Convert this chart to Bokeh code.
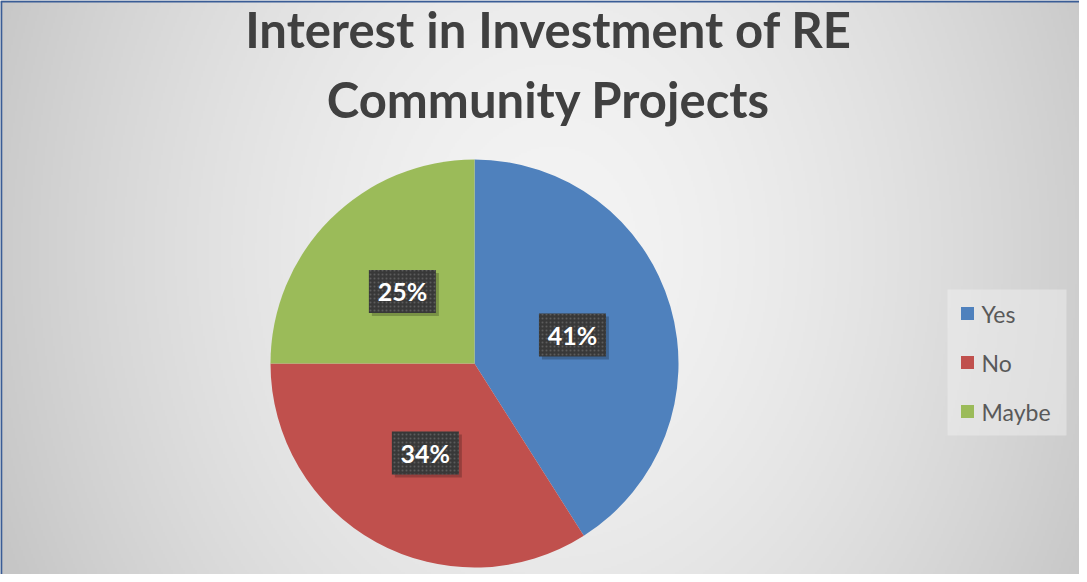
import numpy as np
from bokeh.plotting import figure
from bokeh.models import Range1d, ColumnDataSource
from bokeh.core.properties import value
from bokeh.embed import file_html
from bokeh.resources import INLINE

# ---- data ----
categories = ["Yes", "No", "Maybe"]
shares = [41, 34, 25]
slice_colors = ["#4f81bd", "#c0504d", "#9bbb59"]
title_lines = ["Interest in Investment of RE", "Community Projects"]

# ---- layout ----
W, H = 1079, 574
CX, CY, R = 474, 211, 204
FONT = "Lato"

p = figure(width=W, height=H, x_range=Range1d(0, W), y_range=Range1d(0, H),
           output_backend="svg", toolbar_location=None, min_border=0,
           x_axis_location=None, y_axis_location=None)
p.grid.visible = False
p.outline_line_color = None
p.background_fill_color = "#e0e0e0"
p.border_fill_color = "white"

# background radial gradient (styling only)
ny, nx = H // 2, W // 2
yy, xx = np.mgrid[0:ny, 0:nx]
X = xx * (W / nx)
Y = yy * (H / ny)
d = np.sqrt((X - 552) ** 2 + (0.8 * (Y - 322)) ** 2) / 600.0
t = np.clip(d, 0, 1) ** 1.6
v = (244 - (244 - 198) * t).astype(np.uint8)
img = np.empty((ny, nx), dtype=np.uint32)
view = img.view(dtype=np.uint8).reshape((ny, nx, 4))
view[..., 0] = v
view[..., 1] = v
view[..., 2] = v
view[..., 3] = 255
p.image_rgba(image=[img], x=0, y=0, dw=W, dh=H)

# border (top & left visible)
p.line(x=[0.8, 0.8], y=[0, 573], line_color="#3a5d96", line_width=2)
p.line(x=[0, W], y=[573, 573], line_color="#3a5d96", line_width=2)

# pie
frac = np.array(shares, dtype=float) / sum(shares)
cum = np.concatenate([[0], np.cumsum(frac)]) * 2 * np.pi
start = np.pi / 2 - cum[1:]
end = np.pi / 2 - cum[:-1]
mid = (start + end) / 2
lx = CX + 0.5 * R * np.cos(mid)
ly = CY + 0.5 * R * np.sin(mid)
pct = [f"{s}%" for s in shares]

# legend rows
LEG_Y0, LEG_DY = 261, 49
leg_y = [LEG_Y0 - i * LEG_DY for i in range(len(categories))]

src = ColumnDataSource(dict(cat=categories, start=start, end=end, color=slice_colors,
                            lx=lx, ly=ly, pct=pct, sx=lx + 3, sy=ly - 3,
                            gy=leg_y))
wr = p.wedge(x=CX, y=CY, radius=R, start_angle="start", end_angle="end",
             fill_color="color", line_color=None, source=src)

# data label boxes
p.rect(x="sx", y="sy", width=67, height=43, fill_color="black", fill_alpha=0.22,
       line_color=None, source=src)
p.rect(x="lx", y="ly", width=67, height=43, fill_color="#383838", line_color=None,
       hatch_pattern="dot", hatch_color="#5c5c5c", hatch_scale=4, hatch_weight=1,
       source=src)
p.text(x="lx", y="ly", text="pct", text_align="center", text_baseline="middle",
       text_font=value(FONT), text_font_style="bold", text_font_size="25px",
       text_color="white", source=src)

# title
tsrc = ColumnDataSource(dict(text=title_lines, x=[548, 548], y=[546, 476]))
p.text(x="x", y="y", text="text", text_align="center", text_baseline="alphabetic",
       text_font=value(FONT), text_font_style="bold", text_font_size="49px",
       text_color="#404040", source=tsrc)

# legend (custom)
p.quad(left=947, right=1066, bottom=139, top=285, fill_color="#f2f2f2",
       fill_alpha=0.45, line_color=None)
p.rect(x=967, y="gy", width=13, height=13, fill_color="color", line_color=None,
       source=src)
p.text(x=981, y="gy", text="cat", text_align="left", text_baseline="middle",
       text_font=value(FONT), text_font_size="23px", text_color="#595959",
       source=src)

open("out.html", "w").write(file_html(p, INLINE))
